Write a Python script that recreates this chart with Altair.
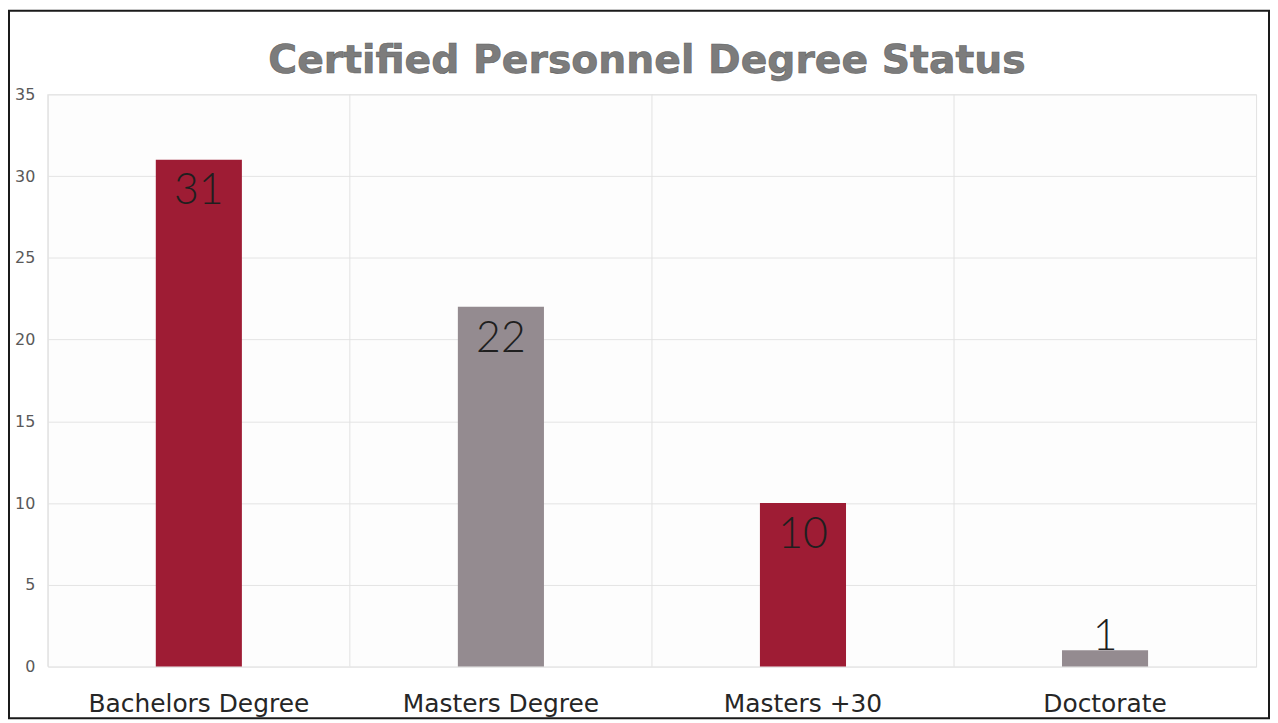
import altair as alt
import pandas as pd

categories = ["Bachelors Degree", "Masters Degree", "Masters +30", "Doctorate"]
values = [31, 22, 10, 1]
bar_colors = ["#9E1C34", "#948B90", "#9E1C34", "#948B90"]
y_ticks = [0, 5, 10, 15, 20, 25, 30, 35]
title_text = "Certified Personnel Degree Status"

df = pd.DataFrame({"cat": categories, "val": values, "color": bar_colors})
df["inside"] = df["val"] >= 5

FONT = "DejaVu Sans"

xscale = alt.Scale(domain=categories, paddingInner=0, paddingOuter=0)
yscale = alt.Scale(domain=[0, 35], nice=False)

xaxis = alt.Axis(title=None, labelFontSize=25, labelColor="#262626", labelFont=FONT,
                 labelPadding=25, labelLimit=0, ticks=False, domain=False, grid=False,
                 labelAngle=0)

base = alt.Chart(df)

bars = base.mark_bar(width={"band": 0.285}).encode(
    x=alt.X("cat:N", scale=xscale, sort=categories, axis=xaxis),
    y=alt.Y("val:Q", scale=yscale,
            axis=alt.Axis(title=None, values=y_ticks, labelFontSize=16, labelColor="#595959",
                          labelFont=FONT, labelPadding=13, ticks=False, domain=False,
                          grid=True, gridColor="#e4e4e4")),
    color=alt.Color("color:N", scale=None),
)

vrules = base.mark_rule(color="#e2e2e2", strokeWidth=1).encode(
    x=alt.X("cat:N", scale=xscale, sort=categories, bandPosition=0, axis=xaxis),
    y=alt.datum(0), y2=alt.datum(35),
)

labels_in = base.transform_filter("datum.inside").mark_text(
    baseline="top", dy=11, fontSize=43, font="Lato", fontWeight=300, color="#1f1f1f"
).encode(x=alt.X("cat:N", scale=xscale, sort=categories, axis=xaxis),
         y=alt.Y("val:Q", scale=yscale), text="val:Q")

labels_out = base.transform_filter("!datum.inside").mark_text(
    baseline="alphabetic", dy=0, fontSize=43, font="Lato", fontWeight=300, color="#1f1f1f"
).encode(x=alt.X("cat:N", scale=xscale, sort=categories, axis=xaxis),
         y=alt.Y("val:Q", scale=yscale), text="val:Q")

one = base.transform_filter("datum.cat == 'Doctorate'")

title = one.mark_text(
    fontSize=39.5, font=FONT, fontWeight="bold", color="#7c7c7c", baseline="middle",
    align="center", stroke="#5e5e5e", strokeWidth=0.6, clip=False
).encode(x=alt.value(602), y=alt.value(-33), text=alt.value(title_text))

border = one.mark_rect(
    filled=False, stroke="#1a1a1a", strokeWidth=2, clip=False
).encode(x=alt.value(-39), x2=alt.value(1227), y=alt.value(-84), y2=alt.value(627))

chart = alt.layer(bars, vrules, labels_in, labels_out, title, border).properties(
    width=1214, height=575,
    autosize=alt.AutoSizeParams(type="none"),
    padding={"left": 40, "top": 85, "right": 14, "bottom": 54},
).configure_view(stroke="#e2e2e2", fill="#fdfdfd")

chart.save("out.html", embed_options={"renderer": "svg", "actions": False})
